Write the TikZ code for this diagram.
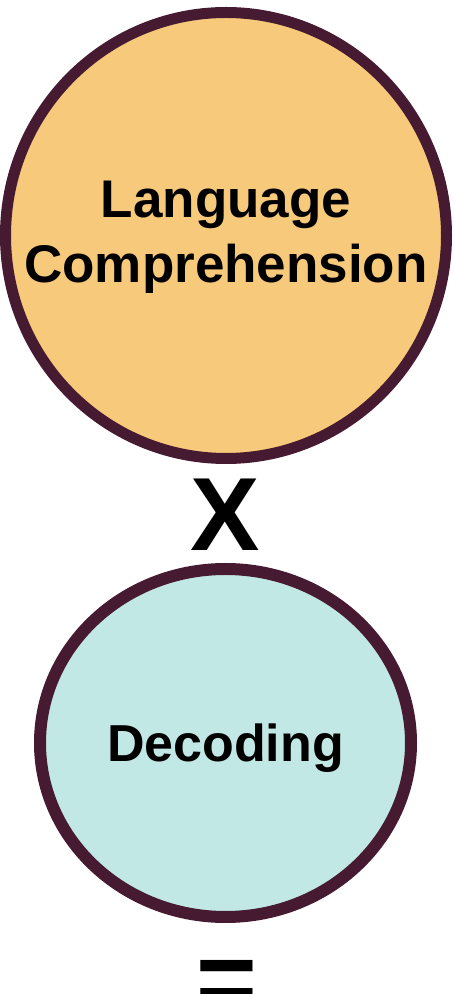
\documentclass[tikz,border=0pt]{standalone}
\usepackage{fontspec}
\setmainfont{Liberation Sans}
\usepackage{tikz}
\usetikzlibrary{
  backgrounds,
  calc,
  positioning,
  shapes
}
\tikzset{>=stealth}
\definecolor{ringcol}{HTML}{461A30}
\definecolor{langcol}{HTML}{F7C97B}
\definecolor{deccol}{HTML}{C2E8E5}
\tikzset{
  bubble/.style={ellipse, draw=ringcol, inner sep=0pt},
  word/.style={anchor=base, inner sep=0pt, font=\bfseries\fontsize{53}{65}\selectfont},
  sign/.style={anchor=base, inner sep=0pt, font=\bfseries\fontsize{104}{110}\selectfont}
}

\begin{document}
\begin{tikzpicture}[x=1pt,y=1pt]
				\useasboundingbox (0,0) rectangle (453,994);
				\coordinate (LC) at (226,758.5);
				\coordinate (DC) at (225.5,251);
				\node[bubble, fill=langcol, line width=11pt, minimum width=441pt, minimum height=446pt] (lang) at (LC) {};
				\node[bubble, fill=deccol, line width=12pt, minimum width=371pt, minimum height=348pt] (dec) at (DC) {};
				\node[word] (lang1) at ($(lang.center)+(0,17.5)$) {Language};
				\node[word] (lang2) at ($(lang.center)+(0,-47.5)$) {Comprehension};
				\node[word, font=\bfseries\fontsize{52}{65}\selectfont] (dec1) at ($(dec.center)+(0,-19)$) {Decoding};
				\node[sign] (times) at (225,443) {X};
				\node[sign] (equals) at (226.5,-20) {=};
			\end{tikzpicture}
\end{document}
